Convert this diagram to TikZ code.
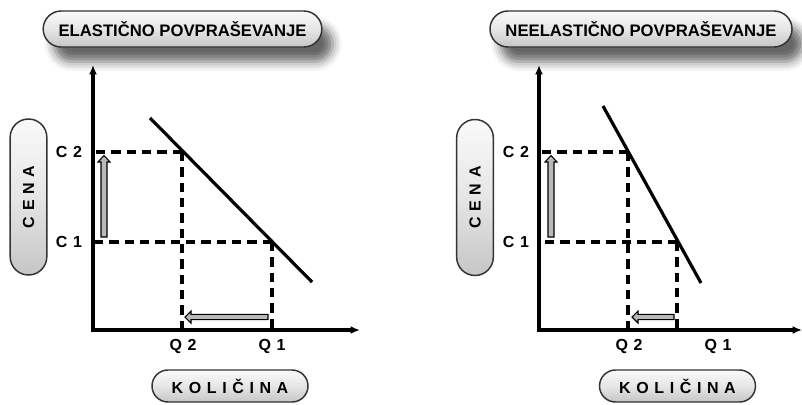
\documentclass[tikz,border=0pt]{standalone}
\usepackage{fontspec}
\setmainfont{Liberation Sans}
\newfontfamily\spaced[LetterSpace=35]{Liberation Sans}
\usetikzlibrary{arrows.meta,shapes.misc,shadows.blur}

\tikzset{
	pill/.style={rounded rectangle, draw=black!80, line width=1.1pt, top color=gray!4, bottom color=gray!45, middle color=gray!20, inner sep=0pt},
	titel/.style={pill, font=\bfseries\fontsize{12.5}{14}\selectfont, minimum height=27pt,
		blur shadow={shadow xshift=8pt, shadow yshift=-11pt, shadow blur radius=7pt, shadow opacity=60}},
	lbl/.style={font=\spaced\bfseries\fontsize{12}{14}\selectfont},
	axisline/.style={line width=2.3pt, {Latex[length=7pt,width=6pt]}-{Latex[length=7pt,width=6pt]}},
	demand/.style={line width=2.4pt},
	guide/.style={line width=2.3pt, dash pattern=on 7pt off 4.5pt},
	move/.style={draw=black, line width=0.8pt, fill=gray!55, line join=miter},
}

\begin{document}
\begin{tikzpicture}[x=0.75pt, y=-0.75pt]
	\useasboundingbox (0,0) rectangle (802,404);

	% elasticno povprasevanje
	\node[titel, minimum width=209pt] (titleL) at (182.5,29) {ELASTIČNO POVPRAŠEVANJE};
	\coordinate (OL) at (93,330);
	\coordinate (yL) at (93,65);
	\coordinate (xL) at (360,330);
	\coordinate (aL) at (150,118);
	\coordinate (bL) at (312,282);
	\coordinate (P2L) at (182,152);
	\coordinate (P1L) at (272,242);
	\draw[axisline] (yL)--(OL)--(xL);
	\draw[demand] (aL)--(bL);
	\draw[guide] (P2L)--(P2L -| OL);
	\draw[guide] (P1L)--(P1L -| OL);
	\draw[guide] (P2L)--(P2L |- OL);
	\draw[guide] (P1L)--(P1L |- OL);
	\node[lbl] (c2L) at (69,152) {C2};
	\node[lbl] (c1L) at (69,242) {C1};
	\node[lbl] (q2L) at (183,346) {Q2};
	\node[lbl] (q1L) at (272,346) {Q1};
	\node[pill, lbl, rotate=90, minimum width=117pt, minimum height=27.5pt] (cenaL) at (28.5,197) {CENA};
	\node[pill, lbl, minimum width=117pt, minimum height=24pt] (kolL) at (230,386) {KOLIČINA};
	\coordinate (upL) at (104,237);
	\coordinate (leftL) at (268,317);
	\draw[move] (upL) ++(-3,0) -- ++(6,0) -- ++(0,-75) -- ++(3,0) -- ++(-6,-6.5) -- ++(-6,6.5) -- ++(3,0) -- cycle;
	\draw[move] (leftL) ++(0,-2.7) -- ++(0,5.4) -- ++(-77,0) -- ++(0,3.3) -- ++(-6,-6) -- ++(6,-6) -- ++(0,3.3) -- cycle;

	% neelasticno povprasevanje
	\node[titel, minimum width=226.5pt] (titleR) at (641,29) {NEELASTIČNO POVPRAŠEVANJE};
	\coordinate (OR) at (539,330);
	\coordinate (yR) at (539,65);
	\coordinate (xR) at (802,330);
	\coordinate (aR) at (603,106);
	\coordinate (bR) at (701,283);
	\coordinate (P2R) at (628,152);
	\coordinate (P1R) at (677,242);
	\draw[axisline] (yR)--(OR)--(xR);
	\draw[demand] (aR)--(bR);
	\draw[guide] (P2R)--(P2R -| OR);
	\draw[guide] (P1R)--(P1R -| OR);
	\draw[guide] (P2R)--(P2R |- OR);
	\draw[guide] (P1R)--(P1R |- OR);
	\node[lbl] (c2R) at (516,152) {C2};
	\node[lbl] (c1R) at (516,242) {C1};
	\node[lbl] (q2R) at (629,346) {Q2};
	\node[lbl] (q1R) at (718,346) {Q1};
	\node[pill, lbl, rotate=90, minimum width=117pt, minimum height=27.5pt] (cenaR) at (475,197.5) {CENA};
	\node[pill, lbl, minimum width=117pt, minimum height=24pt] (kolR) at (677.5,386) {KOLIČINA};
	\coordinate (upR) at (551,237);
	\coordinate (leftR) at (674,317);
	\draw[move] (upR) ++(-3,0) -- ++(6,0) -- ++(0,-75) -- ++(3,0) -- ++(-6,-6.5) -- ++(-6,6.5) -- ++(3,0) -- cycle;
	\draw[move] (leftR) ++(0,-2.7) -- ++(0,5.4) -- ++(-36,0) -- ++(0,3.3) -- ++(-6,-6) -- ++(6,-6) -- ++(0,3.3) -- cycle;
\end{tikzpicture}
\end{document}
